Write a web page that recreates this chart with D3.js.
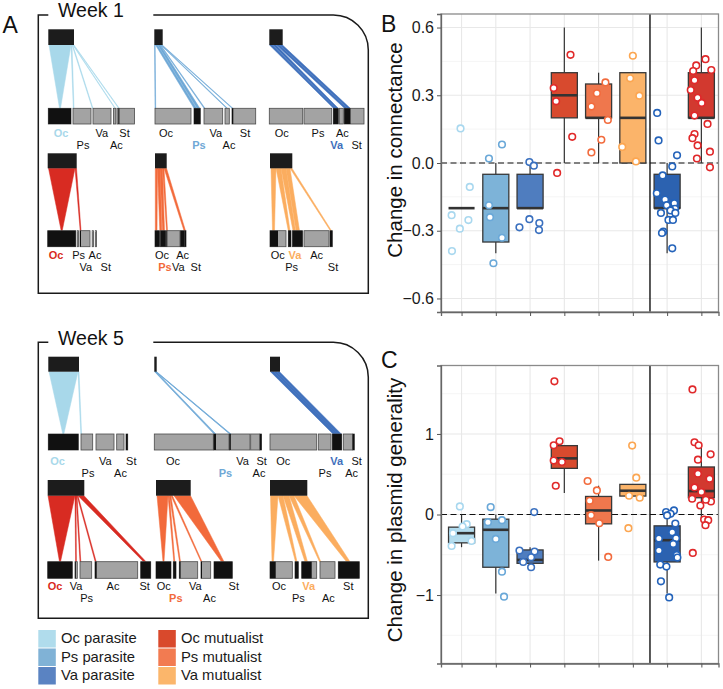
<!DOCTYPE html>
<html><head><meta charset="utf-8">
<script src="https://cdn.jsdelivr.net/npm/d3@7"></script>
<style>body{margin:0;background:#fff}svg{display:block;font-family:"Liberation Sans",Arial,Helvetica,sans-serif}</style>
</head><body><svg id="chart" width="723" height="689"></svg>
<script>
// ---------------- categories & colours ----------------
const legendLabels = ["Oc parasite","Ps parasite","Va parasite","Oc mutualist","Ps mutualist","Va mutualist"];
const legendColors = ["#b0dcec","#80b2d6","#5a83c2","#d9492c","#f27b51","#fbb66b"];
const netColors = {ocP:"#a8d8ea", psP:"#6fa8d6", vaP:"#3f70bc", ocM:"#d82b22", psM:"#f26a3b", vaM:"#fbad5f"};

const groups = [1,2,3,4,5,6,7,8];
const boxFill = ["#b4dced","#7db3d8","#4f7dbf","#d84a2e","#ef774d","#fbb46a","#2c62b0","#d2392f"];
const pointColor = ["#a9d8ef","#6aa8d8","#3a70bf","#e12a2a","#f26b3d","#fca651","#2463ba","#e0282a"];

// ---------------- panel B: connectance ----------------
// [lower whisker, Q1, median, Q3, upper whisker]
const connBox = [
  [-0.2,-0.2,-0.2,-0.2,-0.2],
  [-0.4,-0.35,-0.2,-0.05,0],
  [-0.2,-0.2,-0.2,-0.05,0],
  [0,0.2,0.3,0.4,0.6],
  [0,0.2,0.2,0.35,0.4],
  [0,0,0.2,0.4,0.4],
  [-0.4,-0.2,-0.2,-0.05,0],
  [0,0.2,0.2,0.4,0.6]
];
// points: [jitter offset, value]
const connPts = [
  [[-0.03,0.153],[0.24,-0.106],[-0.29,-0.231],[0.20,-0.253],[-0.05,-0.291],[-0.28,-0.390]],
  [[0.18,0.082],[-0.20,0.02],[-0.20,-0.187],[-0.17,-0.24],[0.18,-0.331],[-0.07,-0.444]],
  [[-0.02,0.004],[0.11,-0.012],[-0.02,-0.249],[-0.31,-0.285],[0.27,-0.266],[0.26,-0.297]],
  [[0.18,0.479],[-0.31,0.332],[-0.24,0.273],[0.23,0.116],[-0.21,-0.044]],
  [[0.20,0.357],[-0.05,0.309],[-0.21,0.25],[0.27,0.191],[0.08,0.103],[-0.21,0.047]],
  [[0,0.475],[-0.08,0.375],[0.19,0.298],[-0.31,0.071],[0.09,0.007]],
  [[-0.29,0.222],[-0.25,0.1],[0.29,0.034],[0.15,-0.015],[-0.13,-0.055],[-0.30,-0.134],[-0.06,-0.162],[0.21,-0.178],[-0.01,-0.187],[0.23,-0.203],[0.10,-0.210],[-0.18,-0.221],[0.24,-0.221],[0.04,-0.252],[0.17,-0.252],[-0.11,-0.304],[-0.15,-0.310],[0.15,-0.378]],
  [[0.12,0.46],[-0.15,0.432],[0.29,0.412],[-0.24,0.407],[-0.20,0.366],[-0.31,0.323],[-0.11,0.289],[0.01,0.266],[-0.20,0.21],[0.18,0.173],[-0.20,0.128],[-0.26,0.11],[-0.11,0.078],[0.25,0.05],[-0.13,0.02],[0.25,-0.019]]
];
const connTicks = [-0.6,-0.3,0,0.3,0.6];
const connMinor = [-0.45,-0.15,0.15,0.45];

// ---------------- panel C: plasmid generality ----------------
const genBox = [
  [-0.406,-0.352,-0.232,-0.157,0],
  [-0.98,-0.655,-0.19,-0.058,0],
  [-0.606,-0.606,-0.564,-0.44,-0.406],
  [0.266,0.573,0.697,0.855,0.855],
  [-0.573,-0.116,0.05,0.224,0.357],
  [0.229,0.229,0.295,0.374,0.374],
  [-0.98,-0.589,-0.319,-0.141,0],
  [-0.07,0.208,0.291,0.59,0.889]
];
const genPts = [
  [[-0.05,0.1],[0.15,-0.12],[0.03,-0.149],[-0.25,-0.232],[0.29,-0.328],[-0.29,-0.39]],
  [[-0.15,0.092],[-0.23,-0.095],[0.18,-0.07],[0,-0.303],[0.18,-0.71],[0.24,-1.02]],
  [[0.12,0.03],[-0.31,-0.448],[0.13,-0.46],[0.03,-0.531],[-0.20,-0.589],[0.03,-0.655]],
  [[-0.29,1.653],[-0.14,0.909],[-0.31,0.86],[-0.31,0.669],[-0.07,0.652],[-0.25,0.357]],
  [[-0.32,0.416],[-0.05,0.299],[-0.26,0.17],[-0.22,-0.008],[0.02,-0.108],[0.28,-0.527]],
  [[-0.02,0.856],[0.10,0.457],[-0.11,0.233],[0.20,0.208],[-0.13,-0.17]],
  [[-0.03,0.03],[0.20,0.05],[0.10,0.009],[0,-0.012],[0.24,-0.112],[0.15,-0.219],[-0.24,-0.299],[0.26,-0.294],[0.18,-0.365],[-0.24,-0.448],[0.28,-0.502],[0.30,-0.535],[-0.20,-0.622],[-0.02,-0.647],[-0.18,-0.83],[0.06,-1.03]],
  [[-0.26,1.553],[-0.20,0.897],[-0.08,0.86],[0.27,0.747],[-0.10,0.681],[-0.10,0.507],[0.24,0.445],[-0.20,0.336],[0,0.279],[-0.27,0.196],[-0.03,0.112],[0.28,0.162],[0.13,0.183],[0.08,-0.062],[0.20,-0.07],[0.12,-0.132],[-0.25,-0.477]]
];
const genTicks = [-1,0,1];
const genMinor = [-1.5,-0.5,0.5,1.5];

// ---------------- panel A: bipartite networks ----------------
const species = ["Oc","Ps","Va","Ac","St"];
const weekLabels = ["Week 1","Week 5"];
// row geometry: top box y/h, lower box y/h, label baselines
const netRows = [
  {top:29.3, topH:15.7, low:108.3, lowH:15.7, lab:[136.5,149]},
  {top:153.3, topH:15,  low:230.7, lowH:16,   lab:[258.5,271]},
  {top:356.7, topH:15,  low:434,   lowH:16,   lab:[464.5,477]},
  {top:480,   topH:15.7,low:561.7, lowH:16.6, lab:[589.5,602]}
];
// each network: plasmid (top) extent, host boxes, interacting (black) parts, links [top0,top1,low0,low1], labels [name,x,row]
const networks = [
  {row:0,col:"ocP",hl:"Oc",top:[48.3,74],
   boxes:[[48.3,71],[73,91],[93,111],[113.5,115.8],[117,134.5]],
   black:[[48.3,71],[118.3,119.4]],
   links:[[49,71,59.5,60.5],[71,72,73.3,74],[72,72.8,92.3,93],[72.8,73.4,114.8,115.4],[73.4,74,118.6,119.3]],
   labels:[["Oc",61,0],["Ps",83,1],["Va",101.7,0],["Ac",116.3,1],["St",124.5,0]]},
  {row:0,col:"psP",hl:"Ps",top:[154.3,162.7],
   boxes:[[155,191],[194,200.3],[204,222.7],[225,229.3],[232,255.7]],
   black:[[194,200.3],[232,233.3]],
   links:[[154.5,155.2,155,155.7],[155.5,157.5,194,196.5],[157.8,160,197,199.8],[160,160.8,204,205],[160.8,161.5,226.5,227.5],[161.5,162.3,232,232.9]],
   labels:[["Oc",166,0],["Ps",199,1],["Va",215.8,0],["Ac",229,1],["St",245,0]]},
  {row:0,col:"vaP",hl:"Va",top:[269.3,282.7],
   boxes:[[269.3,302.7],[304,331.7],[333.3,338.3],[339.3,343.3],[344.3,364]],
   black:[[333.3,338.3],[344.3,350.5]],
   links:[[269.5,272.5,333.5,335.8],[273,276,335.8,338.2],[276.5,279.5,344.5,347.3],[279.7,282.5,347.5,350.3]],
   labels:[["Oc",281.7,0],["Ps",318,0],["Ac",342.3,0],["Va",336.7,1],["St",356.7,1]]},
  {row:1,col:"ocM",hl:"Oc",top:[47.7,76.7],
   boxes:[[47.7,75.7],[77.2,78.4],[80,90],[92.2,93.4],[95.3,96.5]],
   black:[[47.7,75.7],[80,81]],
   links:[[48.5,75,61.2,62.2],[75,76.5,80.2,81]],
   labels:[["Oc",56,0],["Ps",78.7,0],["Ac",95,0],["Va",85.8,1],["St",105.8,1]]},
  {row:1,col:"psM",hl:"Ps",top:[155,166.7],
   boxes:[[155,159.5],[160.5,165.7],[166.5,180],[180.5,184],[184.4,186]],
   black:[[155,159.5],[160.5,165.7],[166.5,167.3],[180.5,184],[184.4,186]],
   links:[[155.3,157.5,155.3,157],[157.5,160,159.8,161.8],[160,162.5,162.5,164.5],[162.5,164,166.5,167.5],[164,166.5,184,185.5]],
   labels:[["Oc",162,0],["Ac",182.7,0],["Ps",165,1],["Va",178.3,1],["St",195.8,1]]},
  {row:1,col:"vaM",hl:"Va",top:[270,292.3],
   boxes:[[270,286],[288.3,291],[292.5,302.5],[304,329],[330,332.3]],
   black:[[270,278],[288.3,291],[292.5,302.5],[330,332.3]],
   links:[[271,276,272.5,274.5],[276,281,288.3,290],[281,286,293,295.5],[286,290,296,299.5],[290,292,330.3,331.5]],
   labels:[["Oc",277.8,0],["Va",295,0],["Ac",316.7,0],["Ps",291.7,1],["St",333,1]]},
  {row:2,col:"ocP",hl:"Oc",top:[48.3,79],
   boxes:[[48.3,78.3],[81,92.7],[96,114],[116.7,124],[126,127.7]],
   black:[[48.3,78.3],[126,127.7]],
   links:[[49,78,62.8,63.8],[78,79,80.8,81.6]],
   labels:[["Oc",57.5,0],["Ps",88,1],["Va",105.3,0],["Ac",120.5,1],["St",131.3,0]]},
  {row:2,col:"psP",hl:"Ps",top:[154.3,156.7],
   boxes:[[154.3,213.3],[213.7,229],[229.5,250],[250.7,259.7],[260,261.5]],
   black:[[213.7,216],[229.5,230.8],[260,261.5]],
   links:[[154.6,155.3,214,214.9],[155.3,156,215,215.9],[155.6,156.2,229.6,230.3],[156,156.6,230.3,231]],
   labels:[["Oc",173,0],["Va",242.5,0],["St",261.7,0],["Ps",225.5,1],["Ac",259,1]]},
  {row:2,col:"vaP",hl:"Va",top:[270,280],
   boxes:[[270,316.7],[318.3,331],[332.3,341.7],[343.3,352.5],[352.7,354.3]],
   black:[[332.3,341.7],[352.7,354.3]],
   links:[[270.5,273.5,333,336],[273.5,276.5,335.5,338.5],[276.5,279.5,338.2,341.3]],
   labels:[["Oc",283.3,0],["Va",336.7,0],["St",356.7,0],["Ps",325,1],["Ac",351.7,1]]},
  {row:3,col:"ocM",hl:"Oc",top:[47.7,84.3],
   boxes:[[47.7,72.3],[75,77.3],[80,91.7],[95,137.7],[140.7,150.7]],
   black:[[47.7,72.3],[75,75.8],[95,96.7],[140.7,150.7]],
   links:[[48,75,59.5,60.5],[75,76,75.6,76.4],[76,77,80,80.8],[77,78,95.2,96.2],[78,84,143.5,146]],
   labels:[["Oc",55,0],["Va",76,0],["Ac",113,0],["St",144.7,0],["Ps",86.7,1]]},
  {row:3,col:"psM",hl:"Ps",top:[156,190.7],
   boxes:[[156,171],[173.3,176],[179.3,197.7],[201,210.7],[214,232.3]],
   black:[[156,171],[173.3,176],[179.3,180.6],[201,202],[214,232.3]],
   links:[[157,168,163,164],[168,169.5,173.8,174.8],[169.5,171,179.5,180.5],[171,172.5,201,202],[174,190.5,221.5,224]],
   labels:[["Oc",163.7,0],["Va",195.3,0],["St",233.8,0],["Ps",175.8,1],["Ac",209.5,1]]},
  {row:3,col:"vaM",hl:"Va",top:[270,307.3],
   boxes:[[270,292.3],[295,298.3],[301.7,316.7],[320,335],[338.3,359.3]],
   black:[[270,275.7],[295,298.3],[301.7,311.7],[338.3,359.3]],
   links:[[270.5,278,272,273.5],[278,283,295.5,297],[283,289,305,307.5],[289,294,319.5,320.8],[294,307,346.5,350]],
   labels:[["Oc",279,0],["Va",308.8,0],["St",348.3,0],["Ps",298.3,1],["Ac",328.3,1]]}
];

// ================= drawing =================
const svg = d3.select("#chart");
const sx = d3.scaleLinear().domain([0,723]).range([0,723]);

// ---- Panel A frames ----
const frames = [{top:15,bottom:293.3},{top:342.3,bottom:618.3}];
const fL=38.3, fR=368.3, rad=35, gapL=48.3, gapR=153.3;
frames.forEach((f,i)=>{
  svg.append("path")
    .attr("d",`M${gapR},${f.top}H${fR-rad}A${rad},${rad} 0 0 1 ${fR},${f.top+rad}V${f.bottom}H${fL}V${f.top}H${gapL}`)
    .attr("fill","none").attr("stroke","#1a1a1a").attr("stroke-width",1.5);
  svg.append("text").attr("x",58).attr("y",f.top+2.2).attr("font-size",19.5).attr("fill","#111").text(weekLabels[i]);
});
svg.append("text").attr("x",2.5).attr("y",33).attr("font-size",23).attr("fill","#111").text("A");

networks.forEach(n=>{
  const r = netRows[n.row];
  const g = svg.append("g");
  const c = netColors[n.col];
  g.selectAll("path").data(n.links).join("path")
    .attr("d",l=>`M${sx(l[0])},${r.top+r.topH}L${sx(l[1])},${r.top+r.topH}L${sx(l[3])},${r.low}L${sx(l[2])},${r.low}Z`)
    .attr("fill",c).attr("stroke",c).attr("stroke-width",0.5).attr("stroke-linejoin","round");
  g.append("rect").attr("x",sx(n.top[0])).attr("y",r.top).attr("width",sx(n.top[1])-sx(n.top[0])).attr("height",r.topH)
    .attr("fill","#1c1c1c");
  g.selectAll("rect.low").data(n.boxes).join("rect").attr("class","low")
    .attr("x",b=>sx(b[0])).attr("y",r.low).attr("width",b=>sx(b[1])-sx(b[0])).attr("height",r.lowH)
    .attr("fill","#a3a3a3").attr("stroke","#4a4a4a").attr("stroke-width",0.8);
  g.selectAll("rect.blk").data(n.black).join("rect").attr("class","blk")
    .attr("x",b=>sx(b[0])).attr("y",r.low).attr("width",b=>sx(b[1])-sx(b[0])).attr("height",r.lowH)
    .attr("fill","#111");
  g.selectAll("text").data(n.labels).join("text")
    .attr("x",d=>sx(d[1])).attr("y",d=>r.lab[d[2]]).attr("text-anchor","middle")
    .attr("font-size",11)
    .attr("font-weight",d=>d[0]===n.hl?"bold":"normal")
    .attr("fill",d=>d[0]===n.hl?c:"#111").text(d=>d[0]);
});

// ---- Legend ----
const legX=[38.3,158.3], legY=[630,648.5,667], sw=17.5;
legendLabels.forEach((lab,i)=>{
  const col=Math.floor(i/3), row=i%3;
  svg.append("rect").attr("x",legX[col]).attr("y",legY[row]).attr("width",sw).attr("height",sw).attr("fill",legendColors[i]);
  svg.append("text").attr("x",legX[col]+22.7).attr("y",legY[row]+13.3).attr("font-size",14.8).attr("fill","#1a1a1a").text(lab);
});

// ---- Panels B & C ----
const xS = d3.scaleLinear().domain([0.4,8.5]).range([441,718.5]);
const halfW = 0.38;
function panel(cfg){
  const {y, ticks, minor, boxes, pts, fmt, label, labelY, letter, letterY} = cfg;
  const [y0,y1] = y.range();
  const g = svg.append("g");
  g.append("rect").attr("x",xS.range()[0]).attr("y",y1).attr("width",xS.range()[1]-xS.range()[0]).attr("height",y0-y1).attr("fill","#fff");
  g.selectAll("line.mi").data(minor).join("line").attr("class","mi")
    .attr("x1",xS.range()[0]).attr("x2",xS.range()[1]).attr("y1",d=>y(d)).attr("y2",d=>y(d))
    .attr("stroke","#f3f3f3").attr("stroke-width",0.8);
  g.selectAll("line.ma").data(ticks).join("line").attr("class","ma")
    .attr("x1",xS.range()[0]).attr("x2",xS.range()[1]).attr("y1",d=>y(d)).attr("y2",d=>y(d))
    .attr("stroke","#e8e8e8").attr("stroke-width",1.1);
  g.selectAll("line.vx").data(groups).join("line").attr("class","vx")
    .attr("x1",d=>xS(d)).attr("x2",d=>xS(d)).attr("y1",y0).attr("y2",y1)
    .attr("stroke","#e8e8e8").attr("stroke-width",1.1);
  g.append("line").attr("x1",xS.range()[0]).attr("x2",xS.range()[1]).attr("y1",y(0)).attr("y2",y(0))
    .attr("stroke","#111").attr("stroke-width",1.2).attr("stroke-dasharray","6,3.5");
  g.append("line").attr("x1",xS(6.5)).attr("x2",xS(6.5)).attr("y1",y0).attr("y2",y1)
    .attr("stroke","#111").attr("stroke-width",1.4);
  g.selectAll("line.wh").data(boxes).join("line").attr("class","wh")
    .attr("x1",(d,i)=>xS(groups[i])).attr("x2",(d,i)=>xS(groups[i])).attr("y1",d=>y(d[0])).attr("y2",d=>y(d[4]))
    .attr("stroke","#333").attr("stroke-width",1.2);
  g.selectAll("rect.bx").data(boxes).join("rect").attr("class","bx")
    .attr("x",(d,i)=>xS(groups[i]-halfW)).attr("width",xS(1+halfW)-xS(1-halfW))
    .attr("y",d=>y(d[3])).attr("height",d=>y(d[1])-y(d[3]))
    .attr("fill",(d,i)=>boxFill[i]).attr("stroke",(d,i)=>d[1]===d[3]?"none":"#383838").attr("stroke-width",1.3);
  g.selectAll("line.md").data(boxes).join("line").attr("class","md")
    .attr("x1",(d,i)=>xS(groups[i]-halfW)).attr("x2",(d,i)=>xS(groups[i]+halfW)).attr("y1",d=>y(d[2])).attr("y2",d=>y(d[2]))
    .attr("stroke","#333").attr("stroke-width",2.6);
  pts.forEach((arr,i)=>{
    g.selectAll(null).data(arr).join("circle")
      .attr("cx",p=>xS(groups[i]+p[0])).attr("cy",p=>y(p[1])).attr("r",3.3)
      .attr("fill","#fff").attr("stroke",pointColor[i]).attr("stroke-width",1.6);
  });
  g.append("rect").attr("x",xS.range()[0]).attr("y",y1).attr("width",xS.range()[1]-xS.range()[0]).attr("height",y0-y1)
    .attr("fill","none").attr("stroke","#8a8a8a").attr("stroke-width",1.3);
  const ax = g.append("g").attr("transform",`translate(${xS.range()[0]},0)`)
    .call(d3.axisLeft(y).tickValues(ticks).tickFormat(fmt).tickSize(4).tickPadding(3));
  ax.select(".domain").attr("stroke","#666").attr("stroke-width",1.3);
  ax.selectAll(".tick line").attr("stroke","#555");
  ax.selectAll(".tick text").attr("font-size",16).attr("fill","#1a1a1a").attr("font-family",null);
  const bx = g.append("g").attr("transform",`translate(0,${y0})`)
    .call(d3.axisBottom(xS).tickValues(groups).tickFormat("").tickSize(4));
  bx.select(".domain").attr("stroke","#666").attr("stroke-width",1.3);
  bx.selectAll(".tick line").attr("stroke","#555");
  g.append("text").attr("transform",`translate(402,${labelY}) rotate(-90)`).attr("text-anchor","middle")
    .attr("font-size",20.5).attr("fill","#111").text(label);
  g.append("text").attr("x",381).attr("y",letterY).attr("font-size",23).attr("fill","#111").text(letter);
}
panel({y:d3.scaleLinear().domain([-0.66,0.66]).range([312,14]), ticks:connTicks, minor:connMinor,
  boxes:connBox, pts:connPts, fmt:d3.format(".1f"), label:"Change in connectance", labelY:150, letter:"B", letterY:31.7});
panel({y:d3.scaleLinear().domain([-1.85,1.85]).range([663.5,365.5]), ticks:genTicks, minor:genMinor,
  boxes:genBox, pts:genPts, fmt:d3.format("d"), label:"Change in plasmid generality", labelY:510, letter:"C", letterY:368});
</script></body></html>
